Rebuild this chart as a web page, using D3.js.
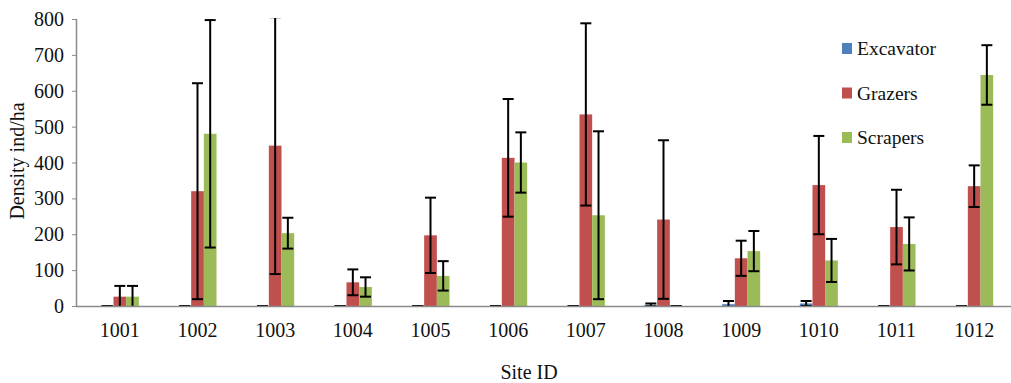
<!DOCTYPE html>
<html>
<head>
<meta charset="utf-8">
<script src="https://cdn.jsdelivr.net/npm/d3@7"></script>
<style>
  html, body { margin: 0; padding: 0; background: #fff; }
  svg { display: block; }
  svg text { font-family: "Liberation Serif", "Times New Roman", "DejaVu Serif", serif; }
</style>
</head>
<body>
<svg id="chart" width="1011" height="383"></svg>
<script>
// site IDs along the x axis
const sites = ['1001','1002','1003','1004','1005','1006','1007','1008','1009','1010','1011','1012'];
const groups = ['Excavator', 'Grazers', 'Scrapers'];

// mean density (ind/ha) per site
const excavator = [0, 0, 0, 0, 0, 0, 0, 3, 5, 7, 0, 0];
const grazers   = [26, 320, 447, 66, 197, 413, 534, 241, 133, 337, 220, 334];
const scrapers  = [26, 480, 203, 53, 84, 400, 253, 0, 153, 127, 173, 644];

// error (+/-) per site
const excavatorErr = [0, 0, 0, 0, 0, 0, 0, 4, 9, 7, 0, 0];
const grazersErr   = [30, 301, 358, 36, 105, 164, 254, 221, 49, 137, 104, 58];
const scrapersErr  = [30, 317, 43, 27, 41, 84, 234, 0, 56, 60, 74, 83];

const yTicks = [0, 100, 200, 300, 400, 500, 600, 700, 800];

const colors = { Excavator: '#4F81BD', Grazers: '#C0504D', Scrapers: '#9BBB59' };
const series = [
  { name: 'Excavator', values: excavator, err: excavatorErr },
  { name: 'Grazers', values: grazers, err: grazersErr },
  { name: 'Scrapers', values: scrapers, err: scrapersErr },
];

const FONT = '"Liberation Serif", "Times New Roman", "DejaVu Serif", serif';
const svg = d3.select('#chart');
const axisLeft = 76, plotRight = 1011, plotTop = 19, plotBottom = 306;

const x0 = d3.scaleBand().domain(sites).range([81, 1013])
  .paddingInner(0.51).paddingOuter(0.255);
const x1 = d3.scaleBand().domain(groups).range([0, x0.bandwidth()]);
const y = d3.scaleLinear().domain([0, 800]).range([plotBottom, plotTop]);

svg.append('defs').append('clipPath').attr('id', 'plotClip')
  .append('rect').attr('x', axisLeft).attr('y', plotTop - 1)
  .attr('width', plotRight - axisLeft).attr('height', plotBottom - plotTop + 1);

// bars
const rows = [];
series.forEach(s => sites.forEach((site, i) => rows.push({ name: s.name, site, v: s.values[i], e: s.err[i] })));

const plot = svg.append('g').attr('clip-path', 'url(#plotClip)');
plot.selectAll('rect.bar').data(rows.filter(d => d.v > 0)).enter().append('rect')
  .attr('class', 'bar')
  .attr('x', d => x0(d.site) + x1(d.name))
  .attr('width', x1.bandwidth())
  .attr('y', d => y(d.v))
  .attr('height', d => y(0) - y(d.v))
  .attr('fill', d => colors[d.name]);

// axes
svg.append('line').attr('x1', axisLeft).attr('x2', plotRight)
  .attr('y1', plotBottom + 0.5).attr('y2', plotBottom + 0.5)
  .attr('stroke', '#8a8a8a').attr('stroke-width', 1.5);
svg.append('line').attr('x1', axisLeft + 0.5).attr('x2', axisLeft + 0.5)
  .attr('y1', plotTop).attr('y2', plotBottom)
  .attr('stroke', '#8a8a8a').attr('stroke-width', 1.5);

// error bars
const eb = plot.selectAll('g.err').data(rows).enter().append('g').attr('class', 'err')
  .attr('stroke', '#000').attr('stroke-width', 2);
const cx = d => x0(d.site) + x1(d.name) + x1.bandwidth() / 2;
const capW = 5.5;
eb.append('line').attr('x1', cx).attr('x2', cx)
  .attr('y1', d => y(d.v + d.e)).attr('y2', d => y(d.v - d.e));
eb.append('line').attr('x1', d => cx(d) - capW).attr('x2', d => cx(d) + capW)
  .attr('y1', d => y(d.v + d.e)).attr('y2', d => y(d.v + d.e));
eb.append('line').attr('x1', d => cx(d) - capW).attr('x2', d => cx(d) + capW)
  .attr('y1', d => y(d.v - d.e)).attr('y2', d => y(d.v - d.e));

// y ticks
const yt = svg.append('g').selectAll('g').data(yTicks).enter().append('g');
yt.append('line').attr('x1', axisLeft - 4).attr('x2', axisLeft)
  .attr('y1', d => y(d) + 0.5).attr('y2', d => y(d) + 0.5)
  .attr('stroke', '#8a8a8a').attr('stroke-width', 1);
yt.append('text').attr('x', 64).attr('y', d => y(d)).attr('dy', '0.35em')
  .attr('font-family', FONT)
  .attr('text-anchor', 'end').attr('font-size', 20).attr('fill', '#111')
  .text(d => d);

// x labels
svg.append('g').selectAll('text').data(sites).enter().append('text')
  .attr('x', d => x0(d) + x0.bandwidth() / 2).attr('y', 337)
  .attr('font-family', FONT)
  .attr('text-anchor', 'middle').attr('font-size', 20).attr('fill', '#111')
  .text(d => d);

// axis titles
svg.append('text').attr('x', 529).attr('y', 379).attr('text-anchor', 'middle')
  .attr('font-family', FONT)
  .attr('font-size', 20).attr('fill', '#111').text('Site ID');
svg.append('text').attr('transform', 'translate(24,161) rotate(-90)')
  .attr('font-family', FONT)
  .attr('text-anchor', 'middle').attr('font-size', 20).attr('fill', '#111')
  .text('Density ind/ha');

// legend
const lg = svg.append('g').selectAll('g').data(groups).enter().append('g')
  .attr('transform', (d, i) => `translate(842,${55 + i * 44.5})`);
lg.append('rect').attr('x', 0).attr('y', -12).attr('width', 10).attr('height', 11)
  .attr('fill', d => colors[d]);
lg.append('text').attr('x', 15).attr('y', 0)
  .attr('font-family', FONT)
  .attr('font-size', 19.5).attr('fill', '#111').text(d => d);
</script>
</body>
</html>
